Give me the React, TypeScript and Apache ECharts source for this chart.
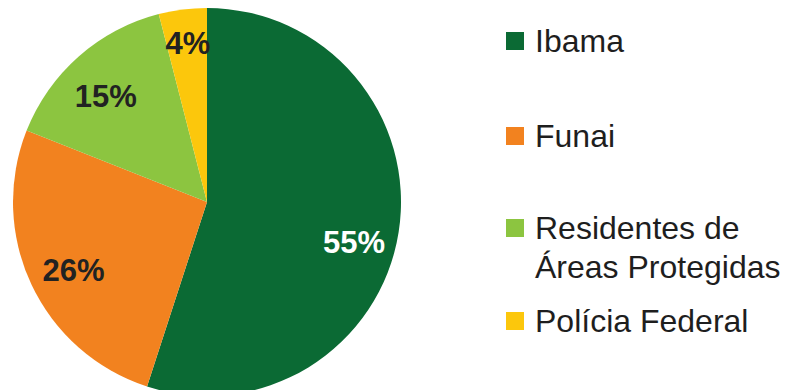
import React, { useEffect, useRef } from "react";
import * as echarts from "echarts";

const categories = ["Ibama", "Funai", "Residentes de Áreas Protegidas", "Polícia Federal"];
const values = [55, 26, 15, 4];
const colors = ["#0b6a34", "#f2821f", "#8cc540", "#fcc70c"];
const labelColors = ["#ffffff", "#222222", "#222222", "#222222"];
const legendLabels = ["Ibama", "Funai", " \nResidentes de\nÁreas Protegidas", "Polícia Federal"];
const labelNudge = [
  [-4, 17],
  [5, 3],
  [0, 9],
  [0, -7],
];

export default function App() {
  const ref = useRef<HTMLDivElement>(null);
  useEffect(() => {
    if (!ref.current) return;
    const chart = echarts.init(ref.current, null, { renderer: "svg" });
    const font = "'Liberation Sans', Arial, sans-serif";
    const legendTops = [21.5, 116.5, 169.5, 301.5];
    const legends = categories.map((name, i) => ({
      data: [name],
      left: 506,
      top: legendTops[i],
      orient: "vertical",
      padding: 0,
      icon: "rect",
      itemWidth: 18,
      itemHeight: 18,
      selectedMode: false,
      formatter: () => legendLabels[i],
      textStyle: {
        fontSize: 32,
        lineHeight: 39,
        color: "#1e1e1e",
        fontFamily: font,
        padding: [0, 0, 0, 6],
      },
    }));
    chart.setOption({
      animation: false,
      backgroundColor: "#ffffff",
      color: colors,
      legend: legends,
      series: [
        {
          type: "pie",
          center: [207, 202],
          radius: [0, 194],
          startAngle: 90,
          clockwise: true,
          label: { show: false },
          labelLine: { show: false },
          itemStyle: { borderWidth: 0 },
          emphasis: { disabled: true },
          data: categories.map((name, i) => ({
            name,
            value: values[i],
            itemStyle: { color: colors[i] },
          })),
        },
        {
          type: "pie",
          center: [207, 202],
          radius: [106, 194],
          startAngle: 90,
          clockwise: true,
          silent: true,
          itemStyle: { color: "transparent", borderWidth: 0 },
          emphasis: { disabled: true },
          labelLine: { show: false },
          label: {
            show: true,
            position: "inside",
            formatter: "{c}%",
            fontSize: 31,
            fontWeight: "bold",
            fontFamily: font,
          },
          labelLayout: (p: any) => ({
            dx: labelNudge[p.dataIndex][0],
            dy: labelNudge[p.dataIndex][1],
          }),
          data: categories.map((name, i) => ({
            name,
            value: values[i],
            label: { color: labelColors[i] },
          })),
        },
      ],
    });
    return () => chart.dispose();
  }, []);
  return (
    <div
      ref={ref}
      style={{ position: "fixed", left: 0, top: 0, width: 788, height: 390 }}
    />
  );
}
